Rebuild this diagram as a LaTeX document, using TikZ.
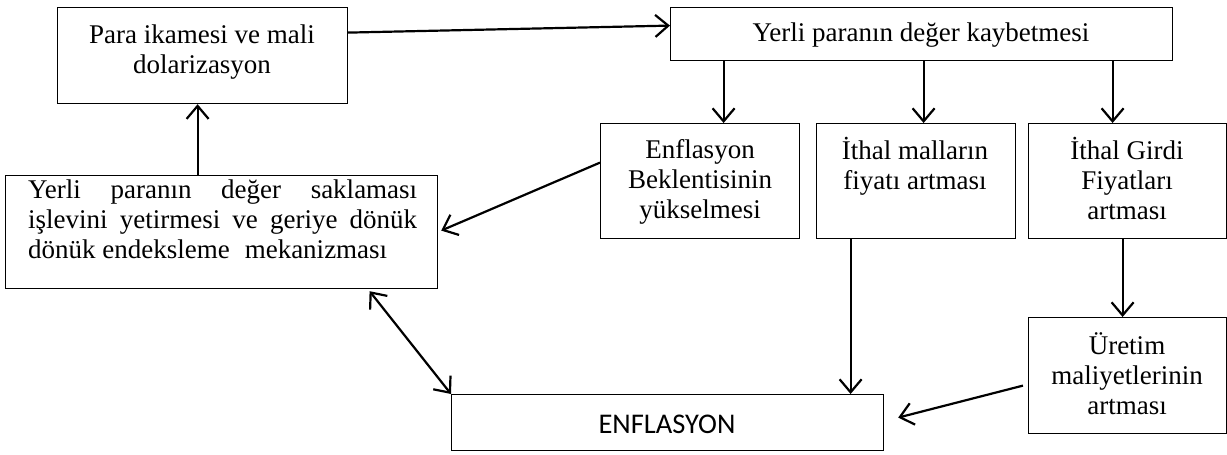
\documentclass[tikz,border=0pt]{standalone}
\usepackage{fontspec}
\setmainfont{Liberation Serif}
\newfontfamily\calib{Carlito}
\usetikzlibrary{arrows.meta}
\begin{document}
\begin{tikzpicture}[x=1pt,y=-1pt,
  box/.style={draw,line width=1.2pt,inner sep=0,anchor=north west,minimum width=#1},
  txt/.style={inner sep=0,align=center,anchor=north,font=\fontsize{27}{30}\selectfont},
  conn/.style={line width=2.2pt,-{Straight Barb[length=13pt,width=22pt]}},
  dconn/.style={line width=2.2pt,{Straight Barb[length=13pt,width=22pt]}-{Straight Barb[length=13pt,width=22pt]}}]
\useasboundingbox (0,0) rectangle (1227,455);
% boxes
\node[box=290pt,minimum height=96pt] (bA) at (57,7) {};
\node[box=502pt,minimum height=53pt] (bB) at (670,7) {};
\node[box=432pt,minimum height=113pt] (bC) at (5,175) {};
\node[box=199pt,minimum height=115pt] (bD) at (600,123) {};
\node[box=199pt,minimum height=115pt] (bE) at (816,123) {};
\node[box=198pt,minimum height=115pt] (bF) at (1028,123) {};
\node[box=198pt,minimum height=116pt] (bG) at (1028,317) {};
\node[box=432pt,minimum height=56pt] (bH) at (451,394) {};
% texts
\node[txt] (tA) at (202,22) {\strut Para ikamesi ve mali\\\strut dolarizasyon};
\node[txt] (tB) at (921,20) {\strut Yerli paranın değer kaybetmesi};
\node[txt,align=left,anchor=north west] (tC) at (28,177) {\strut\makebox[389pt][s]{Yerli paranın değer saklaması}\\\strut\makebox[389pt][s]{işlevini yetirmesi ve geriye dönük}\\\strut dönük endeksleme\hspace{0.3em} mekanizması};
\node[txt] (tD) at (700,137) {\strut Enflasyon\\\strut Beklentisinin\\\strut yükselmesi};
\node[txt] (tE) at (915,137) {\strut İthal malların\\\strut fiyatı artması};
\node[txt] (tF) at (1127,137) {\strut İthal Girdi\\\strut Fiyatları\\\strut artması};
\node[txt] (tG) at (1127,332) {\strut Üretim\\\strut maliyetlerinin\\\strut artması};
\node[inner sep=0,anchor=base,font=\calib\fontsize{28.5}{32}\selectfont] (tH) at (667,433) {ENFLASYON};
% connectors
\draw[conn] ([yshift=23pt]bA.east) -- ([yshift=8.5pt]bB.west);
\draw[conn] ([xshift=23.5pt]bD.north |- bB.south) -- ([xshift=23.5pt]bD.north);
\draw[conn] ([xshift=7.5pt]bE.north |- bB.south) -- ([xshift=7.5pt]bE.north);
\draw[conn] ([xshift=-15pt]bF.north |- bB.south) -- ([xshift=-15pt]bF.north);
\draw[conn] ([yshift=18.5pt]bD.west) -- ([xshift=3pt,yshift=1.5pt]bC.east);
\draw[conn] ([xshift=-24pt]bC.north) -- ([xshift=-24pt]bC.north |- bA.south);
\draw[dconn] ([xshift=148pt,yshift=-2pt]bC.south) -- (bH.north west);
\draw[conn] ([xshift=-65.5pt]bE.south) -- ([xshift=-65.5pt]bE.south |- bH.north);
\draw[conn] ([xshift=-5pt]bF.south) -- ([xshift=-5pt]bF.south |- bG.north);
\draw[conn] ([xshift=-5pt,yshift=-10pt]bG.west) -- ([xshift=14pt,yshift=5pt]bH.east);
\end{tikzpicture}
\end{document}
